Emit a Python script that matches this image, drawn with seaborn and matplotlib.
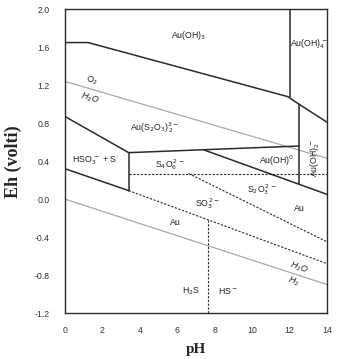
import matplotlib
matplotlib.use("Agg")
import matplotlib.pyplot as plt
import seaborn as sns
import pandas as pd

# ---- data (pH, Eh in volts) ----
solid_segments = {
    "au_oh3_top": ([0, 1.23, 11.9, 12.5, 14], [1.65, 1.65, 1.08, 1.00, 0.81]),
    "au_oh4_left": ([12, 12], [2.0, 1.08]),
    "au_oh2_left": ([12.5, 12.5], [1.00, 0.16]),
    "thio_upper": ([0, 3.4, 12.5], [0.87, 0.49, 0.56]),
    "hso3_right": ([3.4, 3.4], [0.49, 0.09]),
    "hso3_lower": ([0, 3.4], [0.32, 0.09]),
    "au_lower": ([7.4, 14], [0.52, 0.05]),
}
water_segments = {
    "o2_h2o": ([0, 14], [1.24, 0.43]),
    "h2o_h2": ([0, 14], [0.0, -0.90]),
}
dashed_segments = {
    "s4o6_bottom": ([3.4, 14], [0.27, 0.27]),
    "s2o3_so3": ([6.6, 14], [0.27, -0.45]),
    "so3_lower": ([3.4, 14], [0.09, -0.68]),
    "h2s_hs": ([7.66, 7.66], [-0.22, -1.2]),
}
labels = [
    ("Au(OH)$_3$", 6.6, 1.72, 0),
    ("Au(OH)$_4^{\\,-}$", 13.05, 1.63, 0),
    ("O$_2$", 1.45, 1.25, -12),
    ("H$_2$O", 1.3, 1.06, -18),
    ("Au(S$_2$O$_3$)$^{3-}_{\\,2}$", 4.8, 0.75, 0),
    ("HSO$_3^{\\,-}$ + S", 1.6, 0.40, 0),
    ("S$_4$O$_6^{\\,2-}$", 5.6, 0.36, 0),
    ("Au(OH)$^0$", 11.3, 0.40, 0),
    ("Au(OH)$_2^{\\,-}$", 13.35, 0.44, 90),
    ("S$_2$O$_3^{\\,2-}$", 10.5, 0.105, 0),
    ("SO$_3^{\\,2-}$", 7.6, -0.05, 0),
    ("Au", 12.5, -0.10, 0),
    ("Au", 5.9, -0.245, 0),
    ("H$_2$O", 12.5, -0.72, -20),
    ("H$_2$", 12.2, -0.87, -20),
    ("H$_2$S", 6.7, -0.97, 0),
    ("HS$^-$", 8.7, -0.97, 0),
]
x_ticks = [0, 2, 4, 6, 8, 10, 12, 14]
y_ticks = [-1.2, -0.8, -0.4, 0.0, 0.4, 0.8, 1.2, 1.6, 2.0]

sns.set_style("white")
plt.rcParams["font.family"] = ["Liberation Sans", "DejaVu Sans"]

fig = plt.figure(figsize=(3.39, 3.59), dpi=100)
ax = fig.add_axes([0.192, 0.128, 0.773, 0.846])


def draw(segs, **kw):
    for name, (xs, ys) in segs.items():
        df = pd.DataFrame({"pH": xs, "Eh": ys})
        sns.lineplot(data=df, x="pH", y="Eh", ax=ax, sort=False,
                     estimator=None, legend=False, **kw)


draw(water_segments, color="#a8a8a8", linewidth=0.9)
draw(solid_segments, color="#2a2a2a", linewidth=1.1)
draw(dashed_segments, color="#2a2a2a", linewidth=0.8, dashes=False,
     linestyle=(0, (2.0, 1.4)))

for txt, x, y, rot in labels:
    ax.text(x, y, txt, fontsize=6.3, ha="center", va="center",
            rotation=rot, color="#222222",
            style="italic" if txt.startswith("H$_2$") and rot != 0 else "normal")

ax.set_xlim(0, 14)
ax.set_ylim(-1.2, 2.0)
ax.set_xticks(x_ticks)
ax.set_yticks(y_ticks)
ax.set_xticklabels([str(t) for t in x_ticks])
ax.set_yticklabels([f"{t:.1f}" for t in y_ticks])
ax.tick_params(axis="both", length=0, labelsize=6.3, colors="#333333")
ax.tick_params(axis="y", pad=11)
ax.tick_params(axis="x", pad=9)
for s in ax.spines.values():
    s.set_color("#2a2a2a")
    s.set_linewidth(1.0)

ax.set_xlabel("pH", fontsize=11, fontweight="bold",
              family=["Liberation Serif", "DejaVu Serif"], labelpad=6)
ax.set_ylabel("Eh (volti)", fontsize=13, fontweight="bold",
              family=["Liberation Serif", "DejaVu Serif"], labelpad=9)

fig.savefig("out.png", dpi=100)
